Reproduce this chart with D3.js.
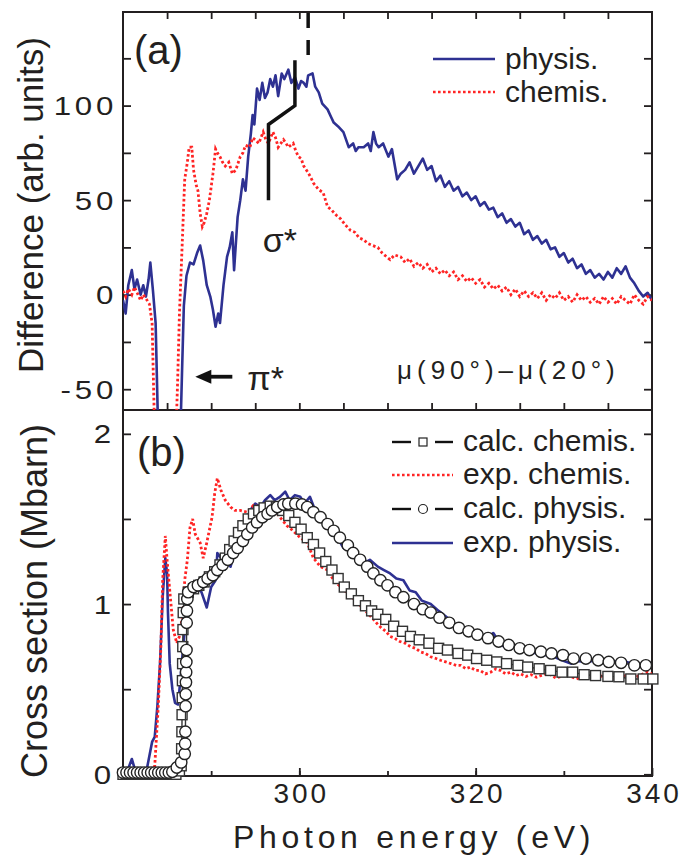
<!DOCTYPE html>
<html><head><meta charset="utf-8">
<script src="https://cdn.jsdelivr.net/npm/d3@7"></script>
<style>
body{margin:0;background:#fff}
svg{display:block}
text{font-family:"Liberation Sans",Arial,Helvetica,sans-serif;fill:#231f20}
</style>
</head><body>
<svg id="c" width="688" height="858"></svg>
<script>
// ---------- DATA ----------
// Panel (a): difference mu(90)-mu(20), [photon energy eV, value arb. units]
const physisDiff = [[280,-3],[280.3,-10],[280.6,5],[281,13],[281.3,3],[281.6,8],[282,0],[282.3,5],[282.6,-1],[282.9,8],[283.1,17],[283.4,2],[283.7,-15],[284,-75],[286.5,-75],[286.7,-40],[286.9,-6],[287.2,10],[287.6,17],[288,16],[288.4,22],[288.75,26],[289.1,18],[289.5,5],[289.9,-1],[290.2,-8],[290.5,-17],[290.8,-10],[291,-15],[291.4,5],[291.8,20],[292.1,25],[292.4,33],[292.6,13],[293,41],[293.3,50],[293.6,61],[293.9,55],[294.2,73],[294.5,85],[294.7,95],[294.9,90],[295.2,109],[295.5,103],[295.8,112],[296.1,104],[296.4,107],[296.7,114],[297,110],[297.3,116],[297.6,105],[298,117],[298.3,114],[298.75,119],[299.1,112],[299.5,115],[299.9,109],[300.2,113],[300.5,112],[300.8,110],[301,116],[301.5,117],[301.8,110],[302.2,107],[302.6,101],[303.2,98],[303.6,94],[303.9,91],[304.4,89],[305,86],[305.6,78],[306.1,80],[306.4,76],[306.7,78],[307.3,78],[307.8,80],[308.1,76],[308.4,86],[308.7,80],[309,78],[309.5,80],[310.1,73],[310.5,77],[311.1,61],[311.5,64],[312,66],[312.5,70],[313,64],[313.5,68],[314,72],[314.5,66],[315,68],[315.5,60],[316,63],[316.5,57],[317,60],[317.5,55],[318,57],[318.5,52],[319,54],[319.5,50],[320,52],[320.5,47],[321,49],[321.5,45],[322,46],[322.5,41],[323,43],[323.5,38],[324,40],[324.5,36],[325,38],[325.5,32],[326,34],[326.5,29],[327,31],[327.5,27],[328,29],[328.5,24],[329,25],[329.5,20],[330,22],[330.5,17],[331,19],[331.5,14],[332,16],[332.5,11],[333,13],[333.5,9],[334,11],[334.5,8],[335,12],[335.5,9],[336,14],[336.5,11],[337,15],[337.5,9],[338,6],[338.5,2],[339,-1],[339.5,1],[340,-3]];
const chemisDiff = [[280,2],[280.3,-1],[280.6,3],[281,0],[281.3,4],[281.6,1],[282,-3],[282.3,0],[282.6,-2],[283,-5],[283.3,-15],[283.6,-75],[286,-75],[286.2,-45],[286.4,-10],[286.7,25],[287,61],[287.3,70],[287.5,78],[287.8,78],[288,66],[288.3,58],[288.5,55],[288.75,43],[289,36],[289.2,38],[289.5,43],[289.8,50],[290.2,64],[290.5,77],[290.7,75],[291,73],[291.3,70],[291.6,68],[292,70],[292.4,64],[292.8,66],[293.3,73],[293.6,75],[293.9,79],[294.4,78],[294.7,83],[295,82],[295.4,80],[295.9,86],[296.2,82],[296.5,80],[297,86],[297.3,83],[297.6,78],[298.2,82],[298.5,80],[298.75,78],[299.3,80],[299.6,76],[299.9,73],[300.2,72],[300.5,68],[301,64.5],[301.3,62],[301.6,59],[302.2,55.5],[302.7,54],[303.2,46.5],[303.6,45],[304.2,42],[304.7,40],[305.2,37],[305.8,34],[306.3,33],[306.8,30],[307.3,29],[307.8,27],[308.3,26],[308.9,25],[309.4,22],[309.9,20],[310.3,18.5],[310.8,21],[311.5,20],[312,17],[312.5,19],[313,15],[313.5,17],[314,14],[314.5,16],[315,12],[315.5,14],[316,11],[316.5,13],[317,10],[317.5,12],[318,8],[318.5,10],[319,7],[319.5,9],[320,6],[320.5,8],[321,4],[321.5,6],[322,3],[322.5,5],[323,2],[323.5,4],[324,0],[324.5,3],[325,-1],[325.5,2],[326,-1],[326.5,1],[327,-2],[327.5,1],[328,-3],[328.5,0],[329,-2],[329.5,1],[330,-3],[330.5,-1],[331,-4],[331.5,0],[332,-3],[332.5,-1],[333,-4],[333.5,-2],[334,-5],[334.5,-1],[335,-4],[335.5,-2],[336,-5],[336.5,-1],[337,-3],[337.5,-5],[338,0],[338.5,-3],[339,-5],[339.5,-1],[340,-3]];

// Panel (b): cross section (Mbarn)
const expChemis = [[280,0],[281,0.0],[282,0.01],[283,0.0],[283.6,0.05],[284,0.4],[284.3,0.75],[284.5,1.14],[284.8,1.40],[285.0,1.26],[285.2,1.14],[285.7,0.85],[286.1,0.77],[286.4,0.81],[286.8,0.95],[287,1.14],[287.3,1.26],[287.6,1.45],[287.9,1.50],[288.2,1.41],[288.75,1.36],[289.1,1.27],[289.5,1.36],[290.1,1.51],[290.4,1.65],[290.7,1.74],[291.1,1.67],[291.6,1.61],[292.2,1.57],[292.7,1.55],[293.3,1.55],[294.1,1.54],[294.8,1.58],[295.6,1.57],[296.4,1.57],[297,1.57],[297.8,1.51],[298.6,1.46],[299.3,1.43],[300.1,1.39],[300.9,1.36],[301.6,1.27],[302.4,1.22],[303.2,1.20],[303.9,1.14],[304.5,1.11],[305,1.08],[305.8,1.06],[306.3,1.02],[306.8,1.0],[307.2,0.97],[307.7,0.95],[308.4,0.91],[308.9,0.88],[309.3,0.86],[309.8,0.84],[310.3,0.81],[310.8,0.80],[311.4,0.78],[312,0.77],[312.6,0.75],[313.2,0.74],[313.7,0.72],[314.3,0.71],[314.9,0.69],[315.5,0.68],[316,0.67],[316.6,0.66],[317.2,0.65],[317.8,0.64],[318.3,0.64],[318.9,0.62],[319.4,0.63],[320,0.61],[320.5,0.61],[321.1,0.59],[321.7,0.60],[322.3,0.62],[322.8,0.61],[323.4,0.59],[324,0.60],[324.6,0.58],[325.1,0.59],[325.7,0.575],[326.3,0.585],[326.9,0.57],[327.4,0.58],[328,0.59],[328.5,0.585],[329.1,0.565],[329.7,0.575],[330.2,0.585],[330.8,0.575],[331.4,0.56],[331.9,0.57],[332.5,0.58],[333,0.57],[333.6,0.56],[334.2,0.575],[334.8,0.585],[335.3,0.575],[335.9,0.56],[336.5,0.57],[337,0.58],[337.6,0.57],[338,0.56],[338.5,0.58],[339,0.59],[339.5,0.60],[340,0.59]];
const expPhysis = [[280,0.0],[280.5,0.02],[281,0.09],[281.4,0.02],[282,0.01],[282.7,0.03],[283.3,0.19],[283.6,0.22],[283.9,0.4],[284.2,0.65],[284.5,1.04],[284.8,1.27],[285,1.18],[285.1,0.95],[285.3,0.65],[285.6,0.5],[285.9,0.42],[286.25,0.41],[286.6,0.61],[287,0.85],[287.4,1.04],[287.8,1.08],[288.4,1.10],[288.9,1.07],[289.5,0.98],[290,1.10],[290.5,1.14],[290.7,1.30],[291.1,1.27],[291.6,1.26],[292.2,1.22],[292.7,1.32],[293.3,1.36],[293.8,1.43],[294.4,1.55],[295,1.59],[295.6,1.57],[296.1,1.61],[296.7,1.64],[297.2,1.61],[297.8,1.63],[298.4,1.66],[298.9,1.61],[299.5,1.64],[300.1,1.63],[300.6,1.59],[301.2,1.63],[301.8,1.55],[302.4,1.51],[302.9,1.47],[303.5,1.43],[304.3,1.39],[305,1.33],[305.7,1.32],[306.6,1.27],[307.3,1.24],[308,1.26],[308.9,1.22],[309.6,1.20],[310.3,1.18],[311.0,1.15],[311.8,1.14],[312.5,1.08],[313.2,1.07],[313.9,1.02],[314.9,1.0],[315.8,0.96],[316.8,0.92],[317.5,0.88],[318.3,0.85],[319.4,0.83],[320.6,0.81],[321.3,0.80],[322,0.83],[322.6,0.78],[323.2,0.75],[324.2,0.75],[325.1,0.74],[326,0.72],[327,0.71],[328,0.70],[328.9,0.69],[329.8,0.67],[330.8,0.65],[331.7,0.665],[332.7,0.66],[333.6,0.67],[334.5,0.67],[335.5,0.66],[336.5,0.67],[337.4,0.655],[338.4,0.64],[339.2,0.65],[340,0.64]];
const calcChemis = [[280.0,0.0],[280.4,0.0],[280.8,0.0],[281.2,0.0],[281.6,0.0],[282.0,0.0],[282.4,0.0],[282.8,0.0],[283.2,0.0],[283.6,0.0],[284.0,0.0],[284.4,0.0],[284.8,0.0],[285.2,0.0],[285.6,0.0],[286.0,0.0],[286.4,0.02],[286.6,0.05],[286.65,0.15],[286.68,0.25],[286.7,0.35],[286.72,0.45],[286.74,0.55],[286.76,0.65],[286.78,0.75],[286.8,0.85],[286.83,0.95],[286.9,1.03],[287.4,1.07],[288.0,1.09],[288.6,1.11],[289.2,1.13],[289.8,1.16],[290.4,1.19],[291.0,1.23],[291.6,1.27],[292.1,1.32],[292.6,1.37],[293.1,1.42],[293.6,1.46],[294.2,1.50],[294.8,1.53],[295.4,1.55],[296.0,1.565],[296.7,1.575],[297.4,1.57],[298.1,1.55],[298.8,1.52],[299.5,1.48],[300.2,1.44],[300.9,1.39],[301.6,1.35],[302.3,1.30],[303.0,1.25],[303.7,1.20],[304.4,1.15],[305.1,1.10],[305.9,1.06],[306.7,1.02],[307.5,0.99],[308.2,0.96],[308.9,0.94],[309.8,0.91],[310.7,0.87],[311.7,0.84],[312.6,0.81],[313.6,0.79],[314.7,0.77],[315.8,0.74],[316.8,0.73],[318.0,0.71],[319.1,0.70],[320.1,0.68],[321.25,0.67],[322.4,0.66],[323.5,0.65],[324.8,0.64],[325.9,0.63],[327.2,0.62],[328.5,0.61],[329.8,0.60],[331.0,0.60],[332.3,0.585],[333.6,0.58],[335.0,0.575],[336.25,0.573],[337.6,0.56],[339.0,0.56],[340.1,0.56]];
const calcPhysis = [[280.0,0.01],[280.4,0.01],[280.8,0.01],[281.2,0.01],[281.6,0.01],[282.0,0.01],[282.4,0.01],[282.8,0.01],[283.2,0.01],[283.6,0.01],[284.0,0.01],[284.4,0.01],[284.8,0.01],[285.2,0.01],[285.6,0.015],[286.1,0.04],[286.6,0.07],[287.0,0.12],[287.05,0.18],[287.08,0.25],[287.1,0.40],[287.12,0.47],[287.14,0.54],[287.16,0.60],[287.18,0.66],[287.2,0.73],[287.22,0.89],[287.25,0.96],[287.3,1.03],[287.4,1.07],[288.0,1.10],[288.5,1.11],[289.1,1.13],[289.6,1.15],[290.2,1.17],[290.7,1.20],[291.3,1.23],[291.9,1.26],[292.5,1.30],[293.0,1.33],[293.6,1.37],[294.1,1.41],[294.65,1.45],[295.2,1.48],[295.8,1.51],[296.4,1.53],[296.9,1.55],[297.5,1.57],[298.2,1.585],[298.75,1.59],[299.55,1.59],[300.3,1.585],[300.9,1.57],[301.6,1.54],[302.4,1.51],[303.2,1.47],[303.9,1.43],[304.6,1.39],[305.5,1.345],[306.1,1.30],[306.9,1.26],[307.7,1.22],[308.4,1.18],[309.2,1.14],[310.0,1.11],[310.9,1.07],[311.8,1.04],[313.0,1.0],[314.0,0.97],[314.9,0.95],[315.9,0.92],[317.0,0.89],[318.1,0.86],[319.2,0.84],[320.2,0.82],[321.4,0.80],[322.6,0.78],[323.75,0.76],[325.0,0.74],[326.1,0.73],[327.4,0.72],[328.6,0.71],[329.9,0.70],[331.1,0.68],[332.5,0.68],[333.9,0.67],[335.1,0.66],[336.5,0.655],[338.0,0.64],[339.3,0.64]];

// Axis ticks / labels
const xTicksA = [285,290,295,300,305,310,315,320,325,330,335];
const xTicksB = [290,300,310,320,330];
const xLabelTicks = [300,320,340];
const yTicksA = [-50,-25,0,25,50,75,100,125];
const yLabelsA = [-50,0,50,100];
const yTicksB = [0,0.5,1,1.5,2];
const yLabelsB = [0,1,2];

// Annotations (data coordinates)
const sigmaMark = [[296.5,50],[296.5,90],[299.5,100],[299.5,124]];
const dashedMark = [[301,149],[301,125]];
const piArrow = [[292.4,-43.4],[289.6,-43.4]];
const piArrowTip = [288.2,-43.4];

// ---------- LAYOUT ----------
const L=123,R=652,TOP=12,MID=410,BOT=776;
const BLUE="#2e3192", RED="#ff2424", INK="#231f20";
const svg=d3.select("#c");
const x=d3.scaleLinear([280,340],[L,R]);
const yA=d3.scaleLinear([-61,149.5],[MID,TOP]);
const yB=d3.scaleLinear([-0.01,2.14],[BOT,MID]);

const defs=svg.append("defs");
defs.append("clipPath").attr("id","ca").append("rect").attr("x",L).attr("y",TOP).attr("width",R-L).attr("height",MID-TOP);
defs.append("clipPath").attr("id","cb").append("rect").attr("x",L).attr("y",MID).attr("width",R-L).attr("height",BOT-MID);

// ---------- AXES ----------
function styleAxis(g){g.select(".domain").remove();g.selectAll(".tick line").attr("stroke",INK).attr("stroke-width",1.8);}
// panel a left/right
svg.append("g").attr("transform",`translate(${L},0)`)
  .call(d3.axisLeft(yA).tickValues(yTicksA).tickSize(-8).tickFormat(d=>yLabelsA.includes(d)?String(d):""))
  .call(styleAxis)
  .call(g=>g.selectAll("text").attr("font-size",25).attr("letter-spacing",3).attr("text-anchor","end")
     .attr("x",-6/1.25).attr("transform","scale(1.25,1)").attr("dy","0.36em"));
svg.append("g").attr("transform",`translate(${R},0)`)
  .call(d3.axisRight(yA).tickValues(yTicksA).tickSize(-8).tickFormat("")).call(styleAxis);
// panel b left/right
svg.append("g").attr("transform",`translate(${L},0)`)
  .call(d3.axisLeft(yB).tickValues(yTicksB).tickSize(-8).tickFormat(d=>yLabelsB.includes(d)?String(d):""))
  .call(styleAxis)
  .call(g=>g.selectAll("text").attr("font-size",25).attr("text-anchor","end")
     .attr("x",-12/1.25).attr("transform","scale(1.25,1)").attr("dy","0.36em"));
svg.append("g").attr("transform",`translate(${R},0)`)
  .call(d3.axisRight(yB).tickValues(yTicksB).tickSize(-8).tickFormat("")).call(styleAxis);
// panel a top & bottom ticks
svg.append("g").attr("transform",`translate(0,${TOP})`)
  .call(d3.axisTop(x).tickValues(xTicksA).tickSize(-7).tickFormat("")).call(styleAxis);
svg.append("g").attr("transform",`translate(0,${MID})`)
  .call(d3.axisBottom(x).tickValues(xTicksA).tickSize(-7).tickFormat("")).call(styleAxis);
// panel b bottom
svg.append("g").attr("transform",`translate(0,${BOT})`)
  .call(d3.axisBottom(x).tickValues(xTicksB).tickSize(-5).tickFormat("")).call(styleAxis);
svg.append("g").attr("transform",`translate(0,${BOT})`)
  .call(d3.axisBottom(x).tickValues(xLabelTicks).tickSize(-8).tickFormat(d3.format("d")))
  .call(styleAxis)
  .call(g=>g.selectAll("text").attr("font-size",28).attr("letter-spacing",3).attr("text-anchor","middle")
     .attr("dx",1.5).attr("y",27).attr("dy",0).attr("transform",null));

// frames
svg.append("rect").attr("x",L).attr("y",TOP).attr("width",R-L).attr("height",BOT-TOP)
  .attr("fill","none").attr("stroke",INK).attr("stroke-width",2);
svg.append("line").attr("x1",L).attr("x2",R).attr("y1",MID).attr("y2",MID).attr("stroke",INK).attr("stroke-width",2);

// axis titles
svg.append("text").attr("transform",`translate(43,${(TOP+MID)/2-6}) rotate(-90)`).attr("text-anchor","middle")
  .attr("font-size",35).text("Difference (arb. units)");
svg.append("text").attr("transform",`translate(47,${(MID+BOT)/2+8}) rotate(-90)`).attr("text-anchor","middle")
  .attr("font-size",36).text("Cross section (Mbarn)");
svg.append("text").attr("x",233).attr("y",848).attr("font-size",32).attr("letter-spacing",4.7).text("Photon energy (eV)");

// ---------- PANEL A ----------
const lineA=d3.line().x(d=>x(d[0])).y(d=>yA(d[1]));
const ga=svg.append("g").attr("clip-path","url(#ca)");
ga.append("path").attr("d",lineA(physisDiff)).attr("fill","none").attr("stroke",BLUE).attr("stroke-width",2.6).attr("stroke-linejoin","round");
ga.append("path").attr("d",lineA(chemisDiff)).attr("fill","none").attr("stroke",RED).attr("stroke-width",2.8).attr("stroke-dasharray","2.6,2.4");

svg.append("path").attr("d",lineA(sigmaMark)).attr("fill","none").attr("stroke","#111").attr("stroke-width",3.5);
svg.append("path").attr("d",lineA(dashedMark)).attr("fill","none").attr("stroke","#111").attr("stroke-width",3.5).attr("stroke-dasharray","15,12");
svg.append("path").attr("d",lineA(piArrow)).attr("fill","none").attr("stroke","#111").attr("stroke-width",3.8);
{
  const tx=x(piArrowTip[0]), ty=yA(piArrowTip[1]);
  svg.append("path").attr("d",`M${tx},${ty} L${tx+16},${ty-7} L${tx+16},${ty+7} Z`).attr("fill","#111");
}
svg.append("text").attr("x",x(295.85)).attr("y",yA(22.5)).attr("font-size",34).text("σ*");
svg.append("text").attr("x",x(294.1)).attr("y",yA(-50.3)).attr("font-size",34).text("π*");
svg.append("text").attr("x",397).attr("y",379).attr("font-size",26).attr("letter-spacing",5).text("μ(90°)–μ(20°)");
svg.append("text").attr("x",134).attr("y",64).attr("font-size",40).text("(a)");

// legend a
svg.append("line").attr("x1",433).attr("x2",495).attr("y1",59).attr("y2",59).attr("stroke",BLUE).attr("stroke-width",2.6);
svg.append("line").attr("x1",433).attr("x2",495).attr("y1",92).attr("y2",92).attr("stroke",RED).attr("stroke-width",2.6).attr("stroke-dasharray","2.6,2.4");
svg.append("text").attr("x",505).attr("y",69).attr("font-size",30).text("physis.");
svg.append("text").attr("x",505).attr("y",102).attr("font-size",30).text("chemis.");

// ---------- PANEL B ----------
const lineB=d3.line().x(d=>x(d[0])).y(d=>yB(d[1]));
const gb=svg.append("g").attr("clip-path","url(#cb)");
gb.append("path").attr("d",lineB(expPhysis)).attr("fill","none").attr("stroke",BLUE).attr("stroke-width",2.6).attr("stroke-linejoin","round");
svg.append("path").attr("d",lineB(calcChemis)).attr("fill","none").attr("stroke","#333").attr("stroke-width",1.4);
svg.append("g").selectAll("rect").data(calcChemis).join("rect")
  .attr("x",d=>x(d[0])-5).attr("y",d=>yB(d[1])-5).attr("width",10).attr("height",10)
  .attr("fill","#fff").attr("stroke","#333").attr("stroke-width",1.4);
gb.append("path").attr("d",lineB(expChemis)).attr("fill","none").attr("stroke",RED).attr("stroke-width",2.8).attr("stroke-dasharray","2.6,2.4");
svg.append("path").attr("d",lineB(calcPhysis)).attr("fill","none").attr("stroke","#333").attr("stroke-width",1.4);
svg.append("g").selectAll("circle").data(calcPhysis).join("circle")
  .attr("cx",d=>x(d[0])).attr("cy",d=>yB(d[1])).attr("r",5.7)
  .attr("fill","#fff").attr("stroke","#222").attr("stroke-width",1.4);

svg.append("text").attr("x",137).attr("y",466).attr("font-size",40).text("(b)");

// legend b
const legB=[
  {y:442,label:"calc. chemis.",type:"sq"},
  {y:475,label:"exp. chemis.",type:"red"},
  {y:509,label:"calc. physis.",type:"ci"},
  {y:543,label:"exp. physis.",type:"blue"}];
legB.forEach(d=>{
  if(d.type==="sq"||d.type==="ci"){
    svg.append("line").attr("x1",392).attr("x2",411).attr("y1",d.y).attr("y2",d.y).attr("stroke","#111").attr("stroke-width",2.4);
    svg.append("line").attr("x1",435).attr("x2",453).attr("y1",d.y).attr("y2",d.y).attr("stroke","#111").attr("stroke-width",2.4);
    if(d.type==="sq") svg.append("rect").attr("x",419).attr("y",d.y-4).attr("width",8).attr("height",8).attr("fill","#fff").attr("stroke","#222").attr("stroke-width",1.2);
    else svg.append("circle").attr("cx",423).attr("cy",d.y).attr("r",4.5).attr("fill","#fff").attr("stroke","#222").attr("stroke-width",1.2);
  } else {
    svg.append("line").attr("x1",392).attr("x2",453).attr("y1",d.y).attr("y2",d.y)
      .attr("stroke",d.type==="red"?RED:BLUE).attr("stroke-width",2.6)
      .attr("stroke-dasharray",d.type==="red"?"2.6,2.4":null);
  }
  svg.append("text").attr("x",463).attr("y",d.y+9).attr("font-size",30).text(d.label);
});
</script>
</body></html>
